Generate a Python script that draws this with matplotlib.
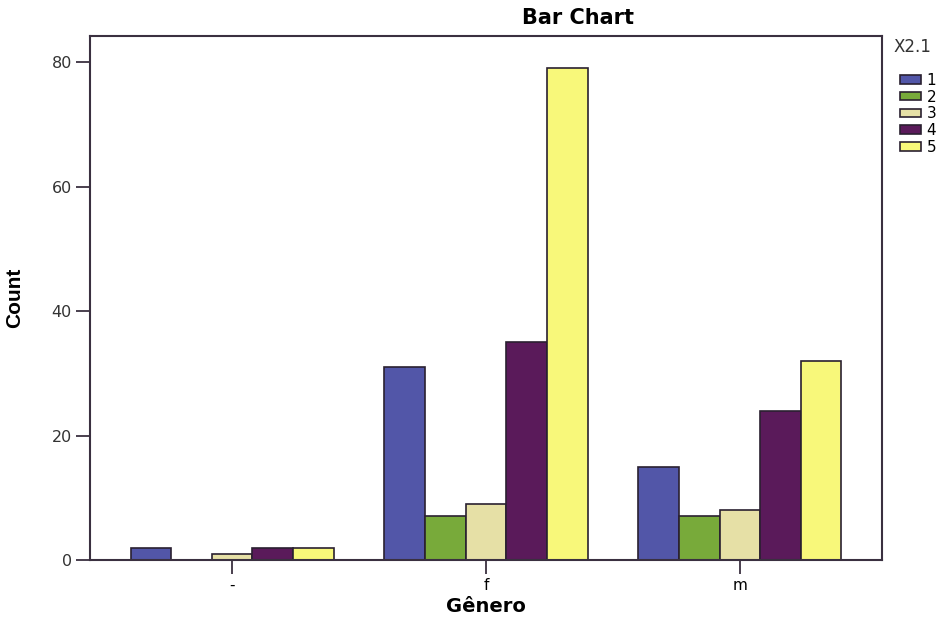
import numpy as np
import matplotlib
matplotlib.use("Agg")
import matplotlib.pyplot as plt

categories = ["-", "f", "m"]
series_labels = ["1", "2", "3", "4", "5"]
# counts per series, one value per category
counts_1 = [2, 31, 15]
counts_2 = [0, 7, 7]
counts_3 = [1, 9, 8]
counts_4 = [2, 35, 24]
counts_5 = [2, 79, 32]
y_ticks = [0, 20, 40, 60, 80]

colors = ["#5256a8", "#78aa3a", "#e6e0a6", "#5a1a5a", "#f8f87a"]
edge = "#2a2030"

fig = plt.figure(figsize=(9.41, 6.19), dpi=100)
ax = fig.add_axes([90 / 941, 59 / 619, 792 / 941, 524 / 619])

x = np.arange(len(categories))
width = 0.16
all_counts = [counts_1, counts_2, counts_3, counts_4, counts_5]
handles = []
for i, vals in enumerate(all_counts):
    offs = (i - 2) * width
    b = ax.bar(x + offs, vals, width, color=colors[i], edgecolor=edge,
               linewidth=1.2, label=series_labels[i], zorder=2)
    handles.append(b)

ax.set_xlim(-0.56, 2.56)
ax.set_ylim(0, 84.2)
ax.set_xticks(x)
ax.set_xticklabels(categories, fontsize=11, family="DejaVu Sans")
ax.set_yticks(y_ticks)
ax.set_yticklabels([str(v) for v in y_ticks], fontsize=11.5,
                   family="DejaVu Sans", color="#333333")
ax.tick_params(axis="both", direction="out", length=10, width=1.3,
               color="#3a3040", pad=3)
for s in ax.spines.values():
    s.set_color("#3a3040")
    s.set_linewidth(1.5)

fig.text(486 / 941, 1 - 606 / 619, "Gênero", ha="center", va="center",
         fontsize=14, fontweight="bold", family="DejaVu Sans")
ax.set_ylabel("Count", fontsize=15, fontweight="bold",
              family="Liberation Sans", labelpad=20)

fig.text(578 / 941, 1 - 18 / 619, "Bar Chart", ha="center", va="center",
         fontsize=15, fontweight="bold", family="DejaVu Sans")

fig.text(894 / 941, 1 - 47 / 619, "X2.1", ha="left", va="center",
         fontsize=12, family="DejaVu Sans", color="#333333")
leg = fig.legend(handles=handles, labels=series_labels,
                 loc="upper left", bbox_to_anchor=(889 / 941, 1 - 62 / 619),
                 frameon=False,
                 handlelength=1.4, handleheight=0.5, handletextpad=0.35,
                 labelspacing=0.12, borderpad=0.2,
                 prop={"family": "DejaVu Sans", "size": 11})

fig.savefig("out.png", dpi=100)
